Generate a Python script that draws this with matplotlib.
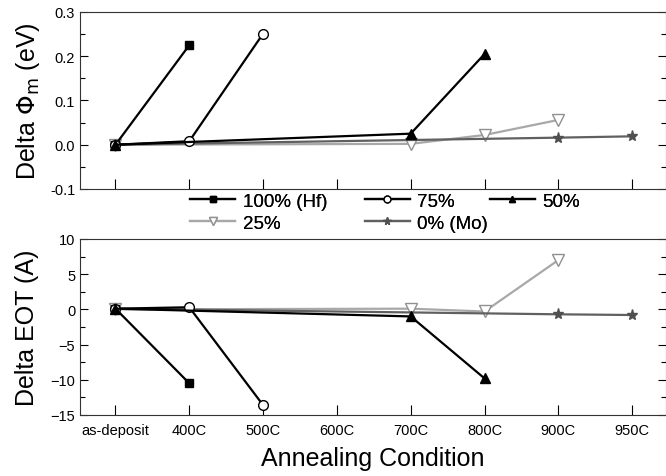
import matplotlib
matplotlib.use('Agg')
import matplotlib.pyplot as plt
from matplotlib.ticker import MultipleLocator

plt.rcParams['font.family'] = ['Liberation Sans', 'DejaVu Sans']

# categorie di ricottura
categorie = ['as-deposit', '400C', '500C', '600C', '700C', '800C', '900C', '950C']

# posizioni (indice di categoria) e valori per ogni serie
x_hf = [0, 1]
phi_hf = [0.0, 0.225]
eot_hf = [0.1, -10.5]

x_75 = [0, 1, 2]
phi_75 = [0.0, 0.008, 0.251]
eot_75 = [0.1, 0.3, -13.6]

x_50 = [0, 4, 5]
phi_50 = [0.0, 0.025, 0.205]
eot_50 = [0.1, -1.0, -9.8]

x_25 = [0, 4, 5, 6]
phi_25 = [0.0, 0.002, 0.022, 0.056]
eot_25 = [0.0, 0.1, -0.3, 7.0]

x_mo = [0, 6, 7]
phi_mo = [0.0, 0.016, 0.019]
eot_mo = [0.1, -0.7, -0.8]

etichette = ['100% (Hf)', '75%', '50%', '25%', '0% (Mo)']

stili = [
    dict(color='black', marker='s', mfc='black', mec='black', ms=6),
    dict(color='black', marker='o', mfc='white', mec='black', ms=7),
    dict(color='black', marker='^', mfc='black', mec='black', ms=7),
    dict(color='#a8a8a8', marker='v', mfc='white', mec='#909090', ms=8),
    dict(color='#606060', marker='*', mfc='#505050', mec='#505050', ms=8),
]

fig = plt.figure(figsize=(6.66, 4.77), dpi=100)
ax1 = fig.add_axes([0.1201, 0.6017, 0.8799, 0.3711])
ax2 = fig.add_axes([0.1201, 0.1279, 0.8799, 0.3690])

serie_phi = [(x_hf, phi_hf), (x_75, phi_75), (x_50, phi_50), (x_25, phi_25), (x_mo, phi_mo)]
serie_eot = [(x_hf, eot_hf), (x_75, eot_75), (x_50, eot_50), (x_25, eot_25), (x_mo, eot_mo)]
ordine_z = [5, 5, 5, 3, 4]

linee = []
for (xs, ys), st, lab, z in zip(serie_phi, stili, etichette, ordine_z):
    l, = ax1.plot(xs, ys, lw=1.6, label=lab, zorder=z, **st)
    linee.append(l)
for (xs, ys), st, z in zip(serie_eot, stili, ordine_z):
    ax2.plot(xs, ys, lw=1.6, zorder=z, **st)

for ax in (ax1, ax2):
    ax.set_xlim(-0.481, 7.459)
    ax.set_xticks(range(len(categorie)))
    ax.tick_params(axis='x', direction='in', length=7, width=0.8, top=False)
    ax.tick_params(axis='y', which='major', direction='in', length=6, width=0.8,
                   left=True, right=True, labelsize=10.5)
    ax.tick_params(axis='y', which='minor', direction='in', length=3.5, width=0.8,
                   left=True, right=True)
    for s in ax.spines.values():
        s.set_linewidth(0.8)
        s.set_color('#333333')

ax1.set_ylim(-0.1, 0.3)
ax1.yaxis.set_major_locator(MultipleLocator(0.1))
ax1.yaxis.set_minor_locator(MultipleLocator(0.05))
ax1.set_yticklabels([f'{v:.1f}' for v in ax1.get_yticks()])
ax1.set_xticklabels([])
ax1.set_ylabel(r'Delta $\Phi_{\rm m}$ (eV)', fontsize=18, labelpad=6)

ax2.set_ylim(-15, 10)
ax2.yaxis.set_major_locator(MultipleLocator(5))
ax2.yaxis.set_minor_locator(MultipleLocator(2.5))
ax2.set_xticklabels(categorie, fontsize=10.5)
ax2.tick_params(axis='x', pad=6)
ax2.set_ylabel('Delta EOT (A)', fontsize=18, labelpad=8)
ax2.set_xlabel('Annealing Condition', fontsize=18, labelpad=6)

# legenda su tre colonne, ognuna posizionata a mano
colonne = [([0, 3], 0.2853), ([1, 4], 0.548), ([2], 0.7357)]
for idx, xpos in colonne:
    leg = fig.legend([linee[i] for i in idx], [etichette[i] for i in idx],
                     loc='upper left', bbox_to_anchor=(xpos, 0.594),
                     frameon=False, fontsize=13.5, handlelength=2.4,
                     handletextpad=0.4, labelspacing=0.25, borderpad=0,
                     borderaxespad=0, markerscale=0.7)
    fig.add_artist(leg)

fig.savefig('out.png', dpi=100)
